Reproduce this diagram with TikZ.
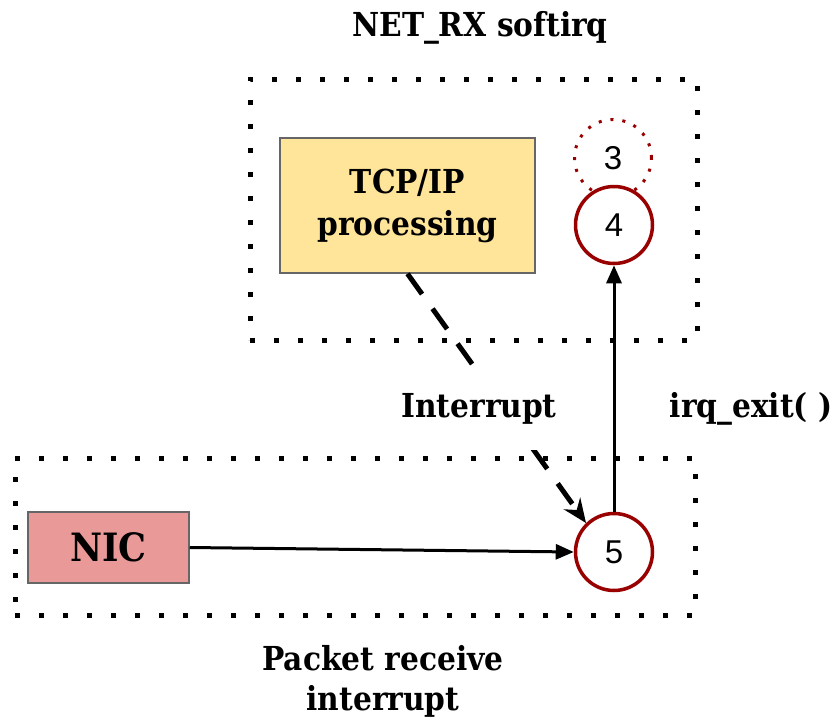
\documentclass[tikz,border=0pt]{standalone}
\usepackage{fontspec}
\setmainfont{DejaVu Serif Condensed}[BoldFont={DejaVu Serif Condensed Bold}]
\newfontfamily\numfont{Liberation Sans}
\usetikzlibrary{arrows.meta}
\definecolor{ringred}{HTML}{990000}
\definecolor{tcpfill}{HTML}{FFE599}
\definecolor{nicfill}{HTML}{EA9999}
\definecolor{boxedge}{HTML}{666666}
\begin{document}
\begin{tikzpicture}[x=1pt,y=-1pt,
  lbl/.style={font=\bfseries\fontsize{33}{40}\selectfont, inner sep=2pt},
  groupbox/.style={draw=black, line width=5pt, dash pattern=on 5pt off 19pt, line cap=butt, inner sep=0pt},
  procbox/.style={draw=boxedge, line width=1.5pt, inner sep=0pt, align=center},
  ring/.style={circle, draw=ringred, line width=3.5pt, minimum size=77pt, inner sep=0pt, font=\numfont\fontsize{33}{33}\selectfont, fill=white},
  flow/.style={line width=3pt, -{Triangle[length=18pt,width=15pt]}},
  irqflow/.style={line width=5pt, dash pattern=on 25pt off 18pt, -{Stealth[length=24pt,width=20pt,inset=8pt]}}
]
\useasboundingbox (0,0) rectangle (836,723);

% softirq group
\node[lbl] (softlbl) at (480,28) {NET\_RX softirq};
\node[groupbox, minimum width=447pt, minimum height=261pt] (soft) at (473.5,209.5) {};
\node[procbox, fill=tcpfill, minimum width=255pt, minimum height=135pt,
      font=\bfseries\fontsize{33}{42}\selectfont] (tcp) at (407.5,205.5) {TCP/IP\\processing};
\node[ring, draw=ringred, line width=3pt, dash pattern=on 3pt off 9pt, fill=none] (c3) at (613,158) {3};
\node[ring] (c4) at (614,225) {4};

% interrupt group
\node[groupbox, minimum width=680pt, minimum height=157pt] (hard) at (355,536.5) {};
\node[procbox, fill=nicfill, minimum width=161pt, minimum height=71pt,
      font=\bfseries\fontsize{39}{40}\selectfont] (nic) at (108.5,547.5) {NIC};
\node[ring] (c5) at (614,552) {5};
\node[lbl, align=center, font=\bfseries\fontsize{33}{40}\selectfont] (hardlbl) at (383,681) {Packet receive\\interrupt};

% connectors
\draw[flow] (nic.east) -- (c5.west);
\draw[flow] (c5.north) -- (c4.south);
\draw[irqflow] (tcp.south) -- (c5.134);
\node[lbl, fill=white, inner xsep=4pt, inner ysep=26pt] (irqlbl) at (479,409) {Interrupt};
\node[lbl] (exitlbl) at (751,409) {irq\_exit( )};
\end{tikzpicture}
\end{document}
